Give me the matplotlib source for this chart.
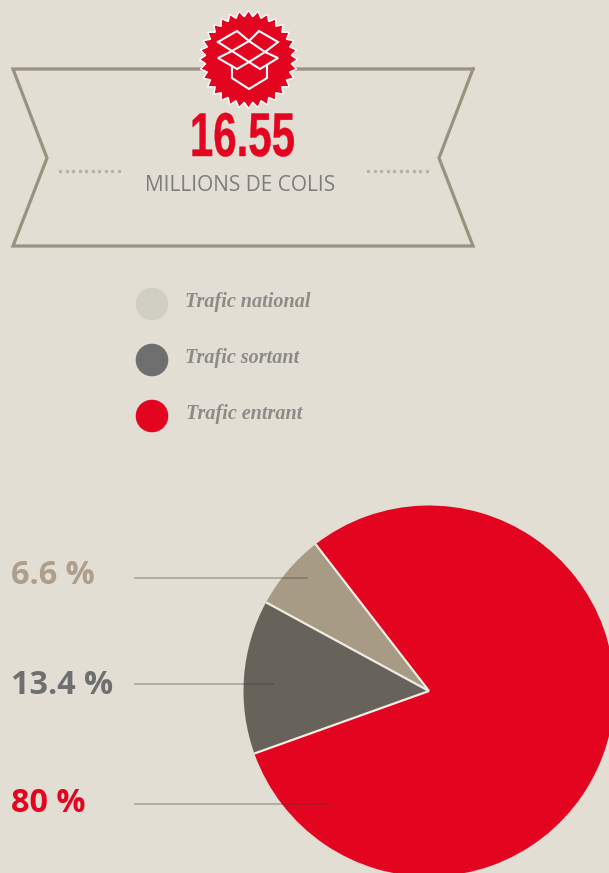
import matplotlib
matplotlib.use("Agg")
import matplotlib.pyplot as plt
import matplotlib.patheffects as pe
from matplotlib.transforms import Affine2D
import numpy as np

W, H = 609, 873
BG = '#e2ded3'
RED = '#e30520'
LINE = '#9a9180'

# data
parts = [6.6, 13.4, 80]
part_labels = ['6.6 %', '13.4 %', '80 %']
part_colors = ['#a89b86', '#67635b', RED]
label_colors = ['#ae9e8c', '#6f6f6f', RED]
legend_names = ['Trafic national', 'Trafic sortant', 'Trafic entrant']
legend_colors = ['#cfcfc3', '#6f6f6f', RED]
total = '16.55'
total_unit = 'MILLIONS DE COLIS'


class Squeeze(pe.AbstractPathEffect):
    # resserre le texte autour de x (pas de police condensee installee)
    def __init__(self, x, sx):
        super().__init__()
        self.x, self.sx = x, sx

    def draw_path(self, renderer, gc, tpath, affine, rgbFace=None):
        squeeze = Affine2D().translate(-self.x, 0).scale(self.sx, 1).translate(self.x, 0)
        gc.set_linewidth(0.3)
        gc.set_foreground(rgbFace)
        renderer.draw_path(gc, tpath, affine + squeeze, rgbFace)


fig = plt.figure(figsize=(W / 100, H / 100), dpi=100, facecolor=BG)

# camembert
cx, cy, r = 429, 691, 185.5
start = 127.7
ax_pie = fig.add_axes([(cx - r) / W, 1 - (cy + r) / H, 2 * r / W, 2 * r / H], zorder=1)
ax_pie.pie(parts, colors=part_colors, startangle=start, counterclock=True,
           wedgeprops={'linewidth': 0})
ax_pie.set_xlim(-1, 1)
ax_pie.set_ylim(-1, 1)
ax_pie.patch.set_alpha(0)
# separations claires entre les parts
bounds = start + np.cumsum([0] + parts[:-1]) * 3.6
for a in np.radians(bounds):
    ax_pie.plot([0, np.cos(a)], [0, np.sin(a)], color='#efece4', lw=1.6, solid_capstyle='butt')

# calque du dessus en coordonnees pixels
top = fig.add_axes([0, 0, 1, 1], zorder=3)
top.set_xlim(0, W)
top.set_ylim(H, 0)
top.axis('off')

# banniere
top.plot([473, 13, 47, 13, 473, 439, 473], [69, 69, 158, 246, 246, 158, 69],
         color=LINE, lw=2.3, solid_joinstyle='miter', solid_capstyle='projecting')
for x0 in (60, 368):
    top.plot(np.linspace(x0, x0 + 59, 10), [171] * 10, ls='none', marker='o', ms=2.5,
             color='#b3b1ad', mec='none')

# badge
angles = np.linspace(0, 2 * np.pi, 64, endpoint=False) + np.pi / 2
radii = np.where(np.arange(64) % 2 == 0, 49, 43)
top.fill(248.5 + radii * np.cos(angles), 59.5 - radii * np.sin(angles), fc=RED, ec='white', lw=1,
         joinstyle='miter', zorder=5)

# icone carton
for xs, ys in [
    ([218, 237, 249, 232, 218], [42, 31, 41, 51, 42]),
    ([249, 259, 278, 265, 249], [41, 31, 42, 52, 41]),
    ([232, 218, 237, 249, 232], [51, 58, 69, 62, 51]),
    ([265, 278, 260, 249, 265], [52, 58, 69, 62, 52]),
    ([232, 232, 249, 267, 267], [66, 78, 89, 78, 66]),
]:
    top.plot(xs, ys, color='white', lw=1.5, solid_joinstyle='miter', zorder=6)

top.text(242.5, 134, total, color=RED, fontsize=44.5, fontweight='bold',
         family='Liberation Sans', ha='center', va='center_baseline',
         path_effects=[Squeeze(242.5, 0.68)], zorder=7)
top.text(240, 183, total_unit, color='#7d7d7b', fontsize=15, family='Open Sans',
         ha='center', va='center_baseline')

# legende
legend_y = [304, 360, 416]
legend_x = [185, 185, 186]
for y, tx, name, col in zip(legend_y, legend_x, legend_names, legend_colors):
    top.add_patch(plt.Circle((152, y), 16.3, fc=col, ec='none'))
    top.text(tx, y - 4, name, color='#8b8b87', fontsize=14.5, style='italic', fontweight='bold',
             family='Liberation Serif', ha='left', va='center_baseline')

# etiquettes
label_y = [572, 682, 800]
line_y = [578, 684, 804]
line_end = [307, 274, 327]
for y, ly, xe, txt, col in zip(label_y, line_y, line_end, part_labels, label_colors):
    top.text(11, y, txt, color=col, fontsize=23.3, fontweight='bold', family='Open Sans',
             ha='left', va='center_baseline')
    top.plot([135, xe], [ly, ly], color='#3a3a32', alpha=0.35, lw=1.2)

fig.savefig('out.png', dpi=100, facecolor=BG)
